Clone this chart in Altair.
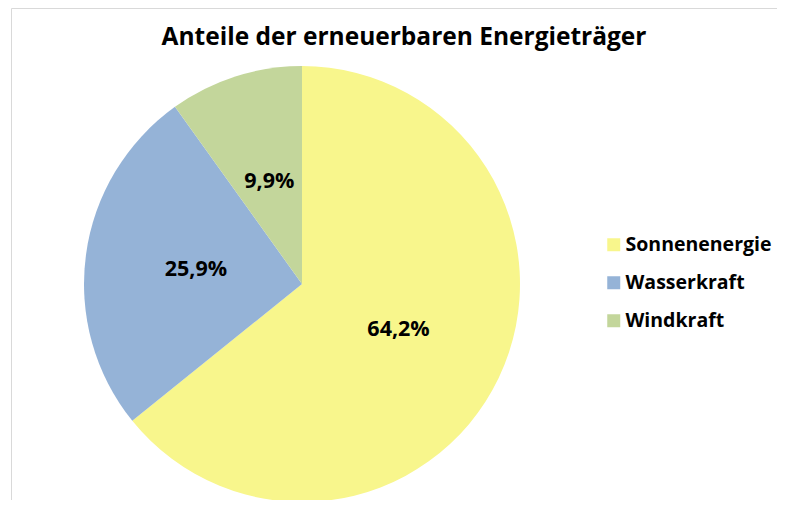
import altair as alt
import pandas as pd

title_text = "Anteile der erneuerbaren Energieträger"
categories = ["Sonnenenergie", "Wasserkraft", "Windkraft"]
shares = [64.2, 25.9, 9.9]
labels = ["64,2%", "25,9%", "9,9%"]
colors = ["#F8F68C", "#95B3D7", "#C3D69B"]

df = pd.DataFrame({"cat": categories, "share": shares, "label": labels,
                   "order": list(range(len(categories)))})

W, H = 769, 492
cx, cy = 294, 276
FONT = "Open Sans"

border = alt.Chart(pd.DataFrame({"a": [0]})).mark_rect(
    fill="transparent", stroke="#D9D9D9", strokeWidth=1
).encode(x=alt.value(3.5), y=alt.value(0.5), x2=alt.value(W + 20), y2=alt.value(H + 20))

base = alt.Chart(df).encode(
    theta=alt.Theta("share:Q", stack=True),
    order=alt.Order("order:Q"),
)

pie = base.mark_arc(radius=218).encode(
    x=alt.value(cx), y=alt.value(cy),
    color=alt.Color("cat:N", scale=alt.Scale(domain=categories, range=colors),
                    legend=alt.Legend(title=None, orient="none", legendX=596, legendY=227,
                                      symbolType="square", symbolSize=169,
                                      symbolStrokeWidth=0, labelFontSize=19.5,
                                      labelFont=FONT, labelFontWeight="bold",
                                      labelColor="black", rowPadding=17,
                                      labelOffset=2, labelLimit=400)),
)

txt = base.mark_text(radius=107, font=FONT, fontWeight="bold", fontSize=21.5,
                     color="black").encode(
    text="label:N", x=alt.value(cx), y=alt.value(cy)
)

title = alt.Chart(pd.DataFrame({"t": [title_text]})).mark_text(
    font=FONT, fontWeight="bold", fontSize=24.5, color="black", baseline="middle"
).encode(text="t:N", x=alt.value(396), y=alt.value(30))

chart = alt.layer(border, pie, txt, title).properties(
    width=W, height=H, autosize=alt.AutoSizeParams(type="none"), padding=0,
    background="white"
).configure_view(stroke=None)

chart.save("out.html", embed_options={"renderer": "svg", "actions": False})
